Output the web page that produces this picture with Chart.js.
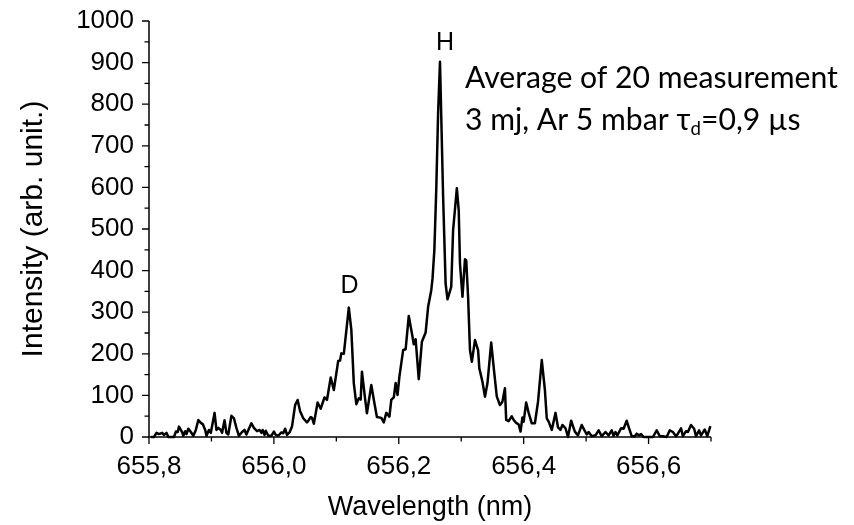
<!DOCTYPE html>
<html><head><meta charset="utf-8">
<script src="https://cdn.jsdelivr.net/npm/chart.js@4/dist/chart.umd.min.js"></script>
<style>html,body{margin:0;padding:0;background:#fff}#wrap{width:854px;height:525px}</style>
</head><body><div id="wrap"><canvas id="c" width="854" height="525"></canvas></div>
<script>
// ---- data ----
const wavelength = [
655.803,655.808,655.812,655.816,655.821,655.824,655.828,655.831,655.840,655.843,
655.846,655.848,655.853,655.855,655.858,655.860,655.863,655.867,655.871,655.875,
655.879,655.883,655.886,655.890,655.892,655.896,655.899,655.905,655.908,655.911,
655.915,655.917,655.921,655.924,655.927,655.932,655.936,655.940,655.944,655.949,
655.953,655.956,655.960,655.964,655.968,655.973,655.977,655.980,655.982,655.985,
655.987,655.991,655.996,656.000,656.003,656.007,656.012,656.015,656.018,656.021,
656.025,656.029,656.034,656.038,656.042,656.047,656.053,656.056,656.059,656.061,
656.064,656.070,656.075,656.081,656.085,656.091,656.096,656.103,656.106,656.108,
656.112,656.120,656.124,656.128,656.132,656.136,656.139,656.141,656.146,656.149,
656.156,656.161,656.165,656.172,656.176,656.180,656.185,656.188,656.192,656.195,
656.198,656.201,656.207,656.211,656.216,656.222,656.224,656.227,656.232,656.237,
656.243,656.247,656.252,656.254,656.257,656.260,656.263,656.266,656.271,656.275,
656.278,656.284,656.287,656.293,656.296,656.298,656.302,656.306,656.308,656.311,
656.314,656.317,656.322,656.327,656.329,656.334,656.338,656.342,656.348,656.353,
656.357,656.362,656.366,656.370,656.372,656.376,656.381,656.384,656.388,656.392,
656.395,656.398,656.400,656.404,656.408,656.413,656.418,656.423,656.429,656.434,
656.437,656.440,656.445,656.451,656.455,656.459,656.462,656.467,656.471,656.476,
656.482,656.487,656.493,656.497,656.501,656.504,656.509,656.515,656.520,656.525,
656.531,656.536,656.541,656.544,656.547,656.550,656.556,656.560,656.565,656.569,
656.573,656.578,656.581,656.585,656.588,656.592,656.599,656.607,656.613,656.618,
656.623,656.629,656.634,656.639,656.644,656.647,656.652,656.655,656.660,656.663,
656.668,656.673,656.676,656.681,656.684,656.690,656.694,656.699];
const intensity = [
0,0,10,7,10,5,10,0,0,13,
12,25,12,3,14,7,20,12,3,17,
41,34,31,17,3,17,10,58,17,22,
17,10,40,10,6,51,45,22,3,12,
17,6,20,33,22,14,17,10,17,5,
15,3,3,13,5,3,11,9,20,5,
11,25,77,89,62,45,35,41,48,46,
32,83,68,95,89,143,113,183,184,201,
200,311,258,129,79,93,90,157,93,57,
125,81,48,46,35,58,49,89,95,130,
101,145,209,211,291,241,223,235,139,229,
251,313,353,380,450,594,780,902,578,369,
331,361,497,598,545,417,337,427,425,337,
209,181,233,209,165,133,97,129,227,153,
97,77,85,117,41,38,50,41,34,30,
13,47,37,83,58,33,33,85,185,113,
45,37,17,58,23,17,29,21,0,39,
13,4,29,17,6,12,2,4,16,2,
12,4,16,3,12,4,21,20,39,20,
2,2,8,4,7,0,0,0,16,2,
2,0,16,12,2,8,21,2,14,12,
29,20,2,16,4,18,2,26];
const xMajorTicks = [655.8, 656.0, 656.2, 656.4, 656.6];
const xMinorTicks = [655.9, 656.1, 656.3, 656.5, 656.7];
const yMajorTicks = [0,100,200,300,400,500,600,700,800,900,1000];
const yMinorTicks = [50,150,250,350,450,550,650,750,850,950];
const xTitle = 'Wavelength (nm)';
const yTitle = 'Intensity (arb. unit.)';
const peakNames = ['D', 'H'];
const peakAnchorX = [656.121, 656.274];
const peakAnchorY = [346, 930];
const noteLine1 = 'Average of 20 measurement';
const noteLine2a = '3 mj, Ar 5 mbar \u03C4';
const noteSub = 'd';
const noteLine2b = '=0,9 \u00B5s';
const noteAnchorX = 656.306;
const noteAnchorY = [839, 738];

const points = wavelength.map((w, i) => ({x: w, y: intensity[i]}));
const FONT = '"Liberation Sans", Arial, sans-serif';

const axesPlugin = {
  id: 'axesDraw',
  afterDatasetsDraw(chart) {
    const {ctx, chartArea: a, scales: {x, y}} = chart;
    ctx.save();
    ctx.strokeStyle = '#000';
    ctx.lineWidth = 1.5;
    ctx.beginPath();
    ctx.moveTo(a.left, a.top); ctx.lineTo(a.left, a.bottom); ctx.lineTo(a.right, a.bottom);
    ctx.stroke();
    ctx.lineWidth = 1.3;
    ctx.beginPath();
    xMajorTicks.forEach(v => { const px = x.getPixelForValue(v); ctx.moveTo(px, a.bottom); ctx.lineTo(px, a.bottom + 7); });
    xMinorTicks.forEach(v => { const px = x.getPixelForValue(v); ctx.moveTo(px, a.bottom); ctx.lineTo(px, a.bottom + 4.5); });
    yMajorTicks.forEach(v => { const py = y.getPixelForValue(v); ctx.moveTo(a.left, py); ctx.lineTo(a.left - 7, py); });
    yMinorTicks.forEach(v => { const py = y.getPixelForValue(v); ctx.moveTo(a.left, py); ctx.lineTo(a.left - 4.5, py); });
    ctx.stroke();

    // peak labels
    ctx.fillStyle = '#000';
    ctx.font = '25px ' + FONT;
    ctx.textAlign = 'center';
    ctx.textBaseline = 'alphabetic';
    peakNames.forEach((n, i) => ctx.fillText(n, x.getPixelForValue(peakAnchorX[i]), y.getPixelForValue(peakAnchorY[i])));

    // note text
    const nf = 'Lato, "Open Sans", sans-serif';
    ctx.font = '26px ' + nf;
    const w26 = ctx.measureText(noteLine1).width;
    const size = 26 * 373 / w26;
    ctx.font = size + 'px ' + nf;
    ctx.textAlign = 'left';
    const nx = x.getPixelForValue(noteAnchorX);
    ctx.fillText(noteLine1, nx, y.getPixelForValue(noteAnchorY[0]));
    const by = y.getPixelForValue(noteAnchorY[1]);
    ctx.fillText(noteLine2a, nx, by);
    let cx = nx + ctx.measureText(noteLine2a).width;
    ctx.font = (size * 0.62) + 'px ' + nf;
    ctx.fillText(noteSub, cx, by + 5);
    cx += ctx.measureText(noteSub).width;
    ctx.font = size + 'px ' + nf;
    ctx.fillText(noteLine2b, cx, by);
    ctx.restore();
  }
};

new Chart(document.getElementById('c'), {
  type: 'line',
  data: {datasets: [{data: points, borderColor: '#000', borderWidth: 2.5, pointRadius: 0, tension: 0, fill: false, clip: false, borderJoinStyle: 'round'}]},
  options: {
    responsive: false, animation: false, devicePixelRatio: 1,
    parsing: false,
    layout: {padding: {left: 0, top: 21, right: 143, bottom: 0}},
    plugins: {legend: {display: false}, tooltip: {enabled: false}},
    scales: {
      x: {
        type: 'linear', min: 655.8, max: 656.7,
        afterFit(s) { s.height = 88; s.paddingLeft = 0; s.paddingRight = 0; },
        afterBuildTicks(s) { s.ticks = xMajorTicks.map(v => ({value: v})); },
        grid: {display: false, drawTicks: false}, border: {display: false},
        ticks: {color: '#000', font: {family: FONT, size: 26}, padding: 14, maxRotation: 0, autoSkip: false,
          callback: v => v.toFixed(1).replace('.', ',')},
        title: {display: true, text: xTitle, color: '#000', font: {family: FONT, size: 27}, padding: {top: 0, bottom: 1}}
      },
      y: {
        type: 'linear', min: 0, max: 1000,
        afterFit(s) { s.width = 149; s.paddingTop = 0; s.paddingBottom = 0; },
        afterBuildTicks(s) { s.ticks = yMajorTicks.map(v => ({value: v})); },
        grid: {display: false, drawTicks: false}, border: {display: false},
        ticks: {color: '#000', font: {family: FONT, size: 26}, padding: 15, autoSkip: false,
          callback: v => String(v)},
        title: {display: true, text: yTitle, color: '#000', font: {family: FONT, size: 30}, padding: {top: 16, bottom: 0}}
      }
    }
  },
  plugins: [axesPlugin]
});
</script></body></html>
